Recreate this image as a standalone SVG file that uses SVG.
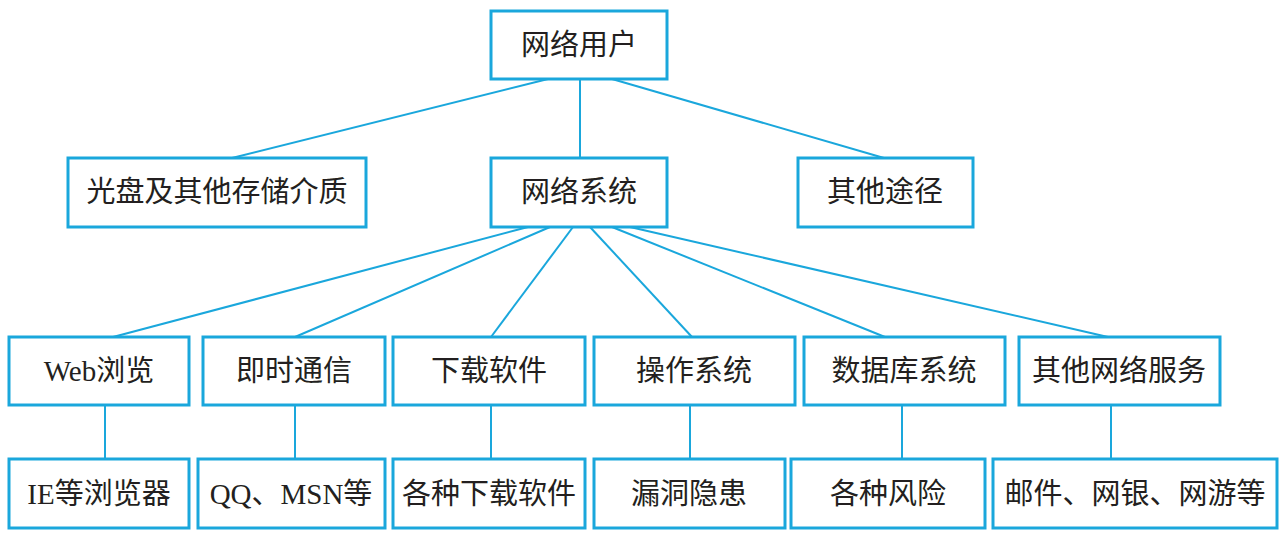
<svg xmlns="http://www.w3.org/2000/svg" width="1282" height="534" viewBox="0 0 1282 534">
<style>
.b{fill:#fff;stroke:#1aa7dc;stroke-width:3}
.c line{stroke:#1aa7dc;stroke-width:2}
text{font-family:"Liberation Serif","Noto Sans CJK SC",serif;font-size:29px;fill:#231f20;text-anchor:middle;dominant-baseline:central}
</style>
<rect width="1282" height="534" fill="#fff"/>
<g class="c">
<line x1="548" y1="79" x2="232" y2="158"/>
<line x1="580" y1="79" x2="580" y2="158"/>
<line x1="612" y1="79" x2="884" y2="158"/>
<line x1="528" y1="227" x2="113" y2="337"/>
<line x1="550" y1="227" x2="295" y2="337"/>
<line x1="573" y1="227" x2="491" y2="337"/>
<line x1="590" y1="227" x2="692" y2="337"/>
<line x1="612" y1="227" x2="885" y2="337"/>
<line x1="630" y1="227" x2="1108" y2="337"/>
<line x1="105" y1="405" x2="105" y2="459"/>
<line x1="295" y1="405" x2="295" y2="459"/>
<line x1="491" y1="405" x2="491" y2="459"/>
<line x1="690" y1="405" x2="690" y2="459"/>
<line x1="902" y1="405" x2="902" y2="459"/>
<line x1="1111" y1="405" x2="1111" y2="459"/>
</g>
<g id="n1"><rect class="b" x="491" y="11" width="176" height="68"/><text x="579" y="45">网络用户</text></g>
<g id="n2"><rect class="b" x="68" y="158" width="298" height="69"/><text x="217" y="192">光盘及其他存储介质</text></g>
<g id="n3"><rect class="b" x="491" y="158" width="176" height="69"/><text x="579" y="192">网络系统</text></g>
<g id="n4"><rect class="b" x="798" y="158" width="175" height="69"/><text x="885" y="192">其他途径</text></g>
<g id="n5"><rect class="b" x="9" y="337" width="180" height="68"/><text x="99" y="371">Web浏览</text></g>
<g id="n6"><rect class="b" x="203" y="337" width="182" height="68"/><text x="294" y="371">即时通信</text></g>
<g id="n7"><rect class="b" x="393" y="337" width="192" height="68"/><text x="489" y="371">下载软件</text></g>
<g id="n8"><rect class="b" x="594" y="337" width="201" height="68"/><text x="694" y="371">操作系统</text></g>
<g id="n9"><rect class="b" x="804" y="337" width="201" height="68"/><text x="904" y="371">数据库系统</text></g>
<g id="n10"><rect class="b" x="1019" y="337" width="201" height="68"/><text x="1119" y="371">其他网络服务</text></g>
<g id="n11"><rect class="b" x="9" y="459" width="180" height="69"/><text x="99" y="494">IE等浏览器</text></g>
<g id="n12"><rect class="b" x="198" y="459" width="187" height="69"/><text x="291" y="494">QQ、MSN等</text></g>
<g id="n13"><rect class="b" x="393" y="459" width="192" height="69"/><text x="489" y="494">各种下载软件</text></g>
<g id="n14"><rect class="b" x="594" y="459" width="191" height="69"/><text x="689" y="494">漏洞隐患</text></g>
<g id="n15"><rect class="b" x="791" y="459" width="194" height="69"/><text x="888" y="494">各种风险</text></g>
<g id="n16"><rect class="b" x="993" y="459" width="284" height="69"/><text x="1135" y="494">邮件、网银、网游等</text></g>
</svg>
